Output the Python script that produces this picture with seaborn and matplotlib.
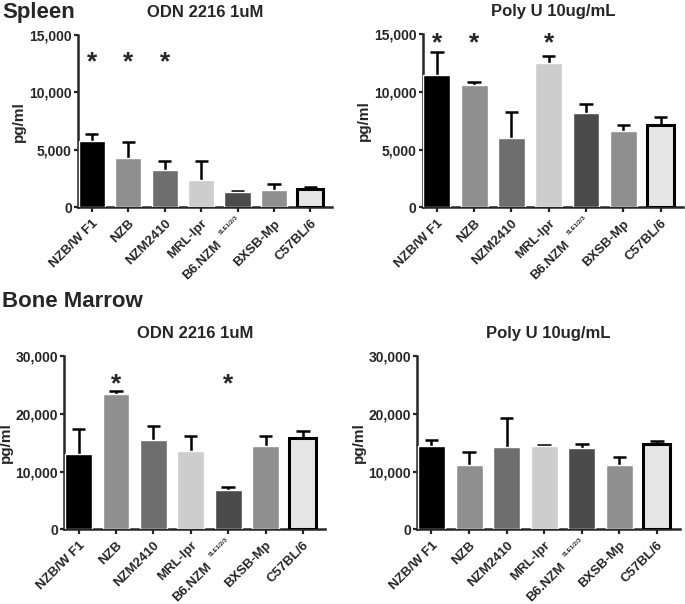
import pandas as pd
import matplotlib.pyplot as plt
import matplotlib.transforms as mtransforms
import seaborn as sns

strains = ['NZB/W F1', 'NZB', 'NZM2410', 'MRL-lpr', 'B6.NZM', 'BXSB-Mp', 'C57BL/6']
bar_colors = ['#000000', '#8f8f8f', '#6e6e6e', '#cdcdcd', '#4b4b4b', '#8f8f8f', '#e6e6e6']

# mean and top of error bar (pg/ml)
spleen_odn = [5750, 4270, 3260, 2330, 1340, 1520, 1570]
spleen_odn_top = [6340, 5700, 3990, 3990, 1430, 2040, 1800]
spleen_polyu = [11470, 10600, 6030, 12480, 8150, 6620, 7110]
spleen_polyu_top = [13440, 10890, 8260, 13120, 8930, 7110, 7830]
bm_odn = [13030, 23460, 15520, 13550, 6720, 14360, 15810]
bm_odn_top = [17430, 23920, 17950, 16160, 7300, 16160, 17030]
bm_polyu = [14480, 11060, 14250, 14360, 14020, 11060, 14710]
bm_polyu_top = [15520, 13440, 19290, 14650, 14830, 12450, 15230]

# significance stars: (strain index, y)
spleen_odn_stars = [(0, 12600), (1, 12600), (2, 12600)]
spleen_polyu_stars = [(0, 14200), (1, 14200), (3, 14200)]
bm_odn_stars = [(1, 25200), (4, 25200)]
bm_polyu_stars = []

sns.set_style("ticks")
plt.rcParams['font.family'] = ['Liberation Sans', 'DejaVu Sans']
plt.rcParams['font.weight'] = 'bold'

fig = plt.figure(figsize=(6.85, 6.04), dpi=100)

panels = [
    ([0.114, 0.657, 0.371, 0.285], 'ODN 2216 1uM', spleen_odn, spleen_odn_top, spleen_odn_stars, 15000),
    ([0.617, 0.657, 0.380, 0.286], 'Poly U 10ug/mL', spleen_polyu, spleen_polyu_top, spleen_polyu_stars, 15000),
    ([0.094, 0.124, 0.381, 0.286], 'ODN 2216 1uM', bm_odn, bm_odn_top, bm_odn_stars, 30000),
    ([0.609, 0.124, 0.383, 0.286], 'Poly U 10ug/mL', bm_polyu, bm_polyu_top, bm_polyu_stars, 30000),
]

for rect, title, vals, tops, stars, ymax in panels:
    ax = fig.add_axes(rect)
    df = pd.DataFrame({'strain': strains, 'value': vals})
    sns.barplot(data=df, x='strain', y='value', hue='strain', palette=bar_colors,
                width=0.72, saturation=1, legend=False, ax=ax, zorder=3)
    # last bar: light fill with thick black outline
    last = ax.patches[-1]
    last.set_edgecolor('black')
    last.set_linewidth(2.2)
    # upward error bars only (SEM), drawn behind the bars
    xs = list(range(len(strains)))
    ax.vlines(xs, vals, tops, color='black', linewidth=1.8, zorder=2)
    ax.hlines(tops, [x - 0.18 for x in xs], [x + 0.18 for x in xs],
              color='black', linewidth=1.8, zorder=2)
    for i, y in stars:
        ax.text(i, y, '*', ha='center', va='center', fontsize=19, fontweight='bold')

    ax.set_ylim(0, ymax)
    ax.set_xlim(-0.38, 6.6)
    ax.set_yticks([0, ymax / 3, 2 * ymax / 3, ymax])
    ax.set_yticklabels([f'{int(v):,}' for v in ax.get_yticks()])
    ax.set_xticks(xs)
    labels = list(strains)
    labels[4] = ''
    ax.set_xticklabels(labels, rotation=45, ha='right', rotation_mode='anchor')
    # B6.NZM label with its small SLE1/2/3 superscript
    base = ax.get_xaxis_transform()
    ax.text(4, 0, 'B6.NZM', rotation=45, ha='right', va='top', rotation_mode='anchor',
            fontsize=9.5, fontweight='bold',
            transform=mtransforms.offset_copy(base, fig=fig, x=-16, y=-23, units='points'))
    ax.text(4, 0, 'SLE1/2/3', rotation=45, ha='right', va='top', rotation_mode='anchor',
            fontsize=4.3, fontweight='bold',
            transform=mtransforms.offset_copy(base, fig=fig, x=-1.5, y=-5.5, units='points'))
    ax.set_xlabel('')
    ax.set_ylabel('pg/ml', fontsize=11, fontweight='bold', labelpad=2)
    ax.set_title(title, fontsize=12, fontweight='bold', pad=13)
    ax.tick_params(axis='x', labelsize=9.5, width=1.6, length=3.5, pad=4)
    ax.tick_params(axis='y', labelsize=10, width=1.6, length=3, pad=1.5)
    for lab in ax.get_xticklabels() + ax.get_yticklabels():
        lab.set_fontweight('bold')
    sns.despine(ax=ax)
    ax.spines['left'].set_linewidth(1.8)
    ax.spines['bottom'].set_linewidth(1.8)

fig.text(0.003, 0.980, 'Spleen', fontsize=16, fontweight='bold', va='center')
fig.text(0.003, 0.501, 'Bone Marrow', fontsize=16, fontweight='bold', va='center')

fig.savefig('out.png', dpi=100)
